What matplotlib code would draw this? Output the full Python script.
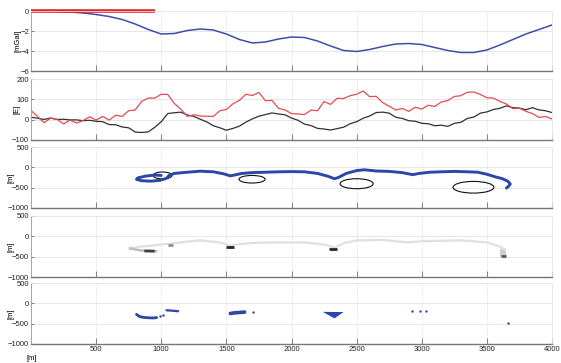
import numpy as np
import matplotlib
matplotlib.use("Agg")
import matplotlib.pyplot as plt
from matplotlib.patches import Ellipse

plt.rcParams['font.family'] = ['Liberation Sans Narrow', 'Liberation Sans', 'DejaVu Sans']

# ---- panel 1: gravity anomaly [mGal]
g_x = list(range(0, 4001, 100))
g_val = [0, -0.02, -0.05, -0.1, -0.2, -0.35, -0.55, -0.85, -1.3, -1.85,
         -2.3, -2.25, -1.95, -1.8, -1.9, -2.3, -2.85, -3.2, -3.1, -2.8,
         -2.6, -2.65, -3.0, -3.5, -3.95, -4.05, -3.85, -3.55, -3.3, -3.25,
         -3.35, -3.65, -3.95, -4.15, -4.15, -3.9, -3.4, -2.85, -2.3, -1.85, -1.4]
red_bar_x = [0, 950]
red_bar_y = [0, 0]

# ---- panel 2: gradient [E]
e_x = list(range(0, 4001, 50))
e_red = [45, 10, -10, 0, 8, -25, 5, -22, 0, 8,
         -2, 10, 3, 15, 22, 40, 55, 85, 110, 100,
         125, 118, 85, 45, 22, 20, 25, 12, 20, 38,
         50, 72, 100, 118, 125, 130, 100, 90, 60, 42,
         30, 22, 30, 40, 50, 85, 82, 100, 108, 112,
         125, 135, 118, 108, 90, 62, 55, 50, 45, 55,
         52, 65, 70, 80, 100, 110, 125, 130, 140, 118,
         108, 100, 95, 70, 60, 52, 48, 25, 15, 10, 3]
e_black = [12, 5, 3, 5, 2, 0, 2, -2, -3, -5,
           -8, -12, -22, -28, -35, -42, -58, -64, -58, -40,
           -10, 28, 36, 34, 24, 14, 5, -12, -28, -42,
           -52, -45, -30, -15, 5, 15, 28, 32, 30, 22,
           8, -5, -20, -32, -42, -48, -48, -45, -35, -22,
           -10, 5, 20, 32, 38, 30, 15, 5, -3, -10,
           -18, -22, -28, -30, -32, -20, -10, 5, 15, 30,
           38, 48, 58, 65, 60, 55, 52, 58, 50, 42, 35]
# small jagged wiggle
e_wig_red = [0, 6, -5, 7, -6, 4, -7, 5, -4, 6]
e_wig_black = [0, 2, -2, 3, -1, 2, -3, 1, -2, 2]

# ---- panel 3: trajectory [m] and error ellipses
tr_x = [1000, 950, 880, 820, 810, 850, 920, 990, 1040, 1060, 1100, 1200, 1300,
        1400, 1480, 1530, 1560, 1620, 1700, 1800, 1900, 2000, 2100, 2200, 2280,
        2330, 2360, 2420, 2500, 2560, 2650, 2750, 2850, 2930, 2980, 3060, 3150,
        3250, 3350, 3430, 3500, 3560, 3620, 3660, 3680, 3665, 3650]
tr_y = [-200, -190, -215, -260, -295, -330, -340, -320, -270, -200, -150, -120, -95,
        -110, -160, -210, -190, -150, -130, -120, -110, -105, -110, -150, -220,
        -280, -250, -150, -80, -60, -90, -100, -130, -180, -150, -120, -110,
        -100, -110, -120, -170, -230, -280, -340, -410, -470, -510]
ell_cx = [1010, 1697, 2500, 3397]
ell_cy = [-200, -293, -403, -490]
ell_w = [145, 200, 254, 314]
ell_h = [170, 186, 246, 287]

# ---- panel 4: grey-scale strip [m]
p4_main_x = [760, 850, 950, 1000, 1100, 1200, 1300, 1450, 1530, 1560, 1700, 1900,
             2100, 2250, 2330, 2400, 2500, 2700, 2900, 3000, 3300, 3500, 3600, 3640]
p4_main_y = [-290, -250, -220, -200, -170, -130, -100, -150, -230, -210, -160, -150,
             -150, -200, -280, -170, -100, -90, -150, -120, -100, -150, -250, -330]
p4_low_x = [760, 850, 960]
p4_low_y = [-300, -350, -365]
p4_dark_x = [[870, 950], [1050, 1090], [1500, 1560], [2290, 2350], [3610, 3650]]
p4_dark_y = [[-360, -365], [-205, -205], [-263, -263], [-303, -303], [-480, -480]]
p4_dark_gray = [0.25, 0.55, 0.15, 0.15, 0.35]
p4_block_x = [3600, 3650]
p4_block_y = [-300, -510]

# ---- panel 5: blue detections [m]
b_x = [[810, 830, 860, 900, 940, 965], [1040, 1080, 1130], [1530, 1560, 1600, 1640]]
b_y = [[-270, -320, -345, -355, -360, -350], [-170, -180, -195], [-250, -235, -225, -215]]
b_lw = [2.0, 1.6, 2.6]
dot_x = [990, 1010, 1705, 2925, 2990, 3030, 3660]
dot_y = [-320, -290, -205, -200, -195, -185, -490]
tri_x = [2240, 2400, 2330]
tri_y = [-210, -215, -370]

xticks = [500, 1000, 1500, 2000, 2500, 3000, 3500, 4000]

fig = plt.figure(figsize=(5.61, 3.63), dpi=100)
L, W = 31 / 561, 521 / 561
rows = [(11, 71), (79, 140), (147, 208), (216, 277), (283, 344)]
axes = []
for t, b in rows:
    axes.append(fig.add_axes([L, 1 - b / 363, W, (b - t) / 363]))

ylims = [(-6, 0), (-100, 200), (-1000, 500), (-1000, 500), (-1000, 500)]
yt = [[-6, -4, -2, 0], [-100, 0, 100, 200], [-1000, -500, 0, 500],
      [-1000, -500, 0, 500], [-1000, -500, 0, 500]]
ylabels = ['[mGal]', '[E]', '[m]', '[m]', '[m]']
ylab_x = [-0.019, -0.021, -0.031, -0.031, -0.031]

for i, ax in enumerate(axes):
    ax.set_xlim(0, 4000)
    ax.set_ylim(*ylims[i])
    ax.set_xticks(xticks)
    ax.set_yticks(yt[i])
    for y in yt[i]:
        ax.axhline(y, color='#e2e2e2', lw=0.6, zorder=0)
    for x in xticks:
        ax.axvline(x, color='#cfcfcf', lw=0.6, ls=':', zorder=0)
    ax.tick_params(direction='in', length=4, width=0.8, color='#888888',
                   labelsize=5.5, labelcolor='#222222', pad=1.5)
    ax.tick_params(axis='y', length=2)
    for s in ['top', 'right']:
        ax.spines[s].set_color('#e6e6e6')
        ax.spines[s].set_linewidth(0.6)
    ax.spines['left'].set_color('#999999')
    ax.spines['left'].set_linewidth(0.6)
    ax.spines['bottom'].set_color('#777777')
    ax.spines['bottom'].set_linewidth(1.0)
    ax.set_ylabel(ylabels[i], fontsize=5.5)
    ax.yaxis.set_label_coords(ylab_x[i], 0.5)
    if i < 4:
        ax.set_xticklabels([])

# panel 1
axes[0].plot(g_x, g_val, color='#3f4ea6', lw=1.1)
axes[0].plot(red_bar_x, red_bar_y, color='#e52424', lw=2.6, solid_capstyle='butt', clip_on=False)

# panel 2
wr = [e_wig_red[k % len(e_wig_red)] for k in range(len(e_x))]
wb = [e_wig_black[k % len(e_wig_black)] for k in range(len(e_x))]
axes[1].plot(e_x, np.array(e_black) + np.array(wb), color='#303030', lw=0.9)
axes[1].plot(e_x, np.array(e_red) + np.array(wr), color='#e84a52', lw=0.9)

# panel 3
axes[2].plot(tr_x, tr_y, color='#2b46a6', lw=2.1, solid_capstyle='round')
for cx, cy, w, h in zip(ell_cx, ell_cy, ell_w, ell_h):
    axes[2].add_patch(Ellipse((cx, cy), w, h, fill=False, ec='#111111', lw=0.8))

# panel 4
axes[3].plot(p4_main_x, p4_main_y, color='#e0e0e0', lw=1.6)
axes[3].plot(p4_low_x, p4_low_y, color='#bdbdbd', lw=1.8)
for xs, ys, gv in zip(p4_dark_x, p4_dark_y, p4_dark_gray):
    axes[3].plot(xs, ys, color=str(gv), lw=2.0, solid_capstyle='butt')
axes[3].fill_between(p4_block_x, p4_block_y[0], p4_block_y[1], color='#cccccc', lw=0)

# panel 5
for xs, ys, lw in zip(b_x, b_y, b_lw):
    axes[4].plot(xs, ys, color='#2b46a6', lw=lw, solid_capstyle='round')
axes[4].scatter(dot_x, dot_y, s=3, color='#2b46a6', lw=0)
axes[4].fill(tri_x, tri_y, color='#2b46a6', lw=0)

fig.text(32 / 561, 1 - 358 / 363, '[m]', fontsize=5.5, ha='center', va='center')

fig.savefig('out.png', dpi=100)
